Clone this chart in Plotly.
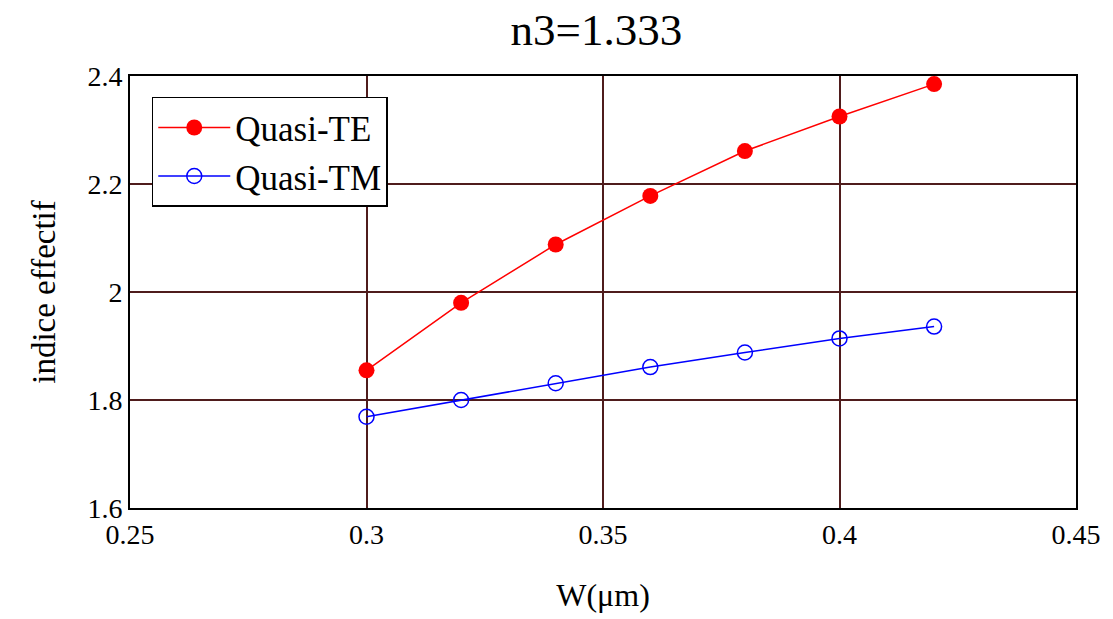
import plotly.graph_objects as go

W = [0.30, 0.32, 0.34, 0.36, 0.38, 0.40, 0.42]
quasi_te = [1.855, 1.980, 2.088, 2.178, 2.261, 2.325, 2.385]
quasi_tm = [1.769, 1.800, 1.831, 1.861, 1.888, 1.914, 1.936]

x_ticks = [0.25, 0.30, 0.35, 0.40, 0.45]
y_ticks = [1.6, 1.8, 2.0, 2.2, 2.4]

serif = "Liberation Serif, Times New Roman, serif"
grid = "#4f1c1c"

fig = go.Figure()
fig.add_trace(go.Scatter(
    x=W, y=quasi_te, mode="lines+markers", name="Quasi-TE",
    line=dict(color="#ff0000", width=1.5),
    marker=dict(symbol="circle", size=16, color="#ff0000"),
))
fig.add_trace(go.Scatter(
    x=W, y=quasi_tm, mode="lines+markers", name="Quasi-TM",
    line=dict(color="#0000ff", width=1.5),
    marker=dict(symbol="circle-open", size=15, color="#0000ff", line=dict(width=1.5)),
))

fig.update_layout(
    width=1113, height=619,
    margin=dict(l=130, r=34, t=76, b=107),
    paper_bgcolor="white", plot_bgcolor="white",
    font=dict(family=serif, color="black"),
    title=dict(text="n3=1.333", x=0.493, xanchor="center", xref="paper", y=0.952, yanchor="middle",
               font=dict(size=45, family=serif, color="black")),
    legend=dict(x=0.023, y=0.952, xanchor="left", yanchor="top",
                bordercolor="black", borderwidth=1.5, bgcolor="white",
                font=dict(size=35, family=serif, color="black"),
                itemwidth=72, tracegroupgap=0),
    showlegend=True,
)
fig.update_xaxes(
    range=[0.25, 0.45], tickvals=x_ticks, showgrid=True, gridcolor=grid, gridwidth=1.5,
    showline=True, linecolor="black", linewidth=2, mirror=True, zeroline=False,
    ticks="", tickfont=dict(size=28, family=serif, color="black"),
    title=dict(text="W(μm)", font=dict(size=32, family=serif, color="black"), standoff=35),
)
fig.update_yaxes(
    range=[1.6, 2.4], tickvals=y_ticks, showgrid=True, gridcolor=grid, gridwidth=1.5,
    showline=True, linecolor="black", linewidth=2, mirror=True, zeroline=False,
    ticks="", tickfont=dict(size=28, family=serif, color="black"),
    title=dict(text="indice effectif", font=dict(size=33, family=serif, color="black"), standoff=22),
)
fig.write_html("out.html")
